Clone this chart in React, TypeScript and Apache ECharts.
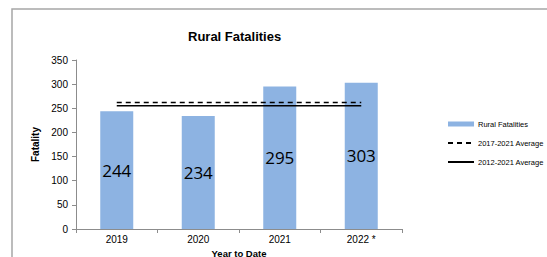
import React, { useEffect, useRef } from "react";
import * as echarts from "echarts";

const categories = ["2019", "2020", "2021", "2022 *"];
const ruralFatalities = [244, 234, 295, 303];
const avg2017_2021 = [262, 262, 262, 262];
const avg2012_2021 = [255, 255, 255, 255];
const yTicks = [0, 50, 100, 150, 200, 250, 300, 350];

export default function App() {
  const ref = useRef<HTMLDivElement>(null);
  useEffect(() => {
    document.body.style.margin = "0";
    const chart = echarts.init(ref.current!, null, { renderer: "svg" });
    const font = "'Liberation Sans', Arial, sans-serif";
    const labelFont = "'Open Sans', 'Liberation Sans', sans-serif";
    chart.setOption({
      animation: false,
      backgroundColor: "#ffffff",
      title: {
        text: "Rural Fatalities",
        left: 183,
        top: 25,
        textStyle: { fontFamily: font, fontWeight: "bold", fontSize: 13, color: "#000" },
      },
      graphic: [
        {
          type: "polyline",
          shape: { points: [[12, 260], [12, 9], [560, 9]] },
          style: { stroke: "#a6a6a6", lineWidth: 1.5, fill: "none" },
          silent: true,
        },
      ],
      legend: {
        orient: "vertical",
        left: 442,
        top: 115,
        itemWidth: 26,
        itemHeight: 5,
        itemGap: 11,
        textStyle: { fontFamily: font, fontSize: 7.5, color: "#000", padding: [0, 0, 0, -1] },
        data: [
          { name: "Rural Fatalities", icon: "rect" },
          { name: "2017-2021 Average", itemStyle: { opacity: 0 } },
          { name: "2012-2021 Average", itemStyle: { opacity: 0 } },
        ],
      },
      grid: { left: 76, top: 60, right: 145, bottom: 28, outerBoundsMode: "none", containLabel: false },
      xAxis: {
        type: "category",
        data: categories,
        name: "Year to Date",
        nameLocation: "middle",
        nameGap: 17,
        nameTextStyle: { fontFamily: font, fontWeight: "bold", fontSize: 9.5, color: "#000", lineHeight: 10 },
        axisLine: { lineStyle: { color: "#8c8c8c" } },
        axisTick: { show: true, length: 4, lineStyle: { color: "#8c8c8c" } },
        axisLabel: { fontFamily: font, fontSize: 10, color: "#000", margin: 5 },
      },
      yAxis: {
        type: "value",
        min: 0,
        max: 350,
        interval: 50,
        name: "Fatality",
        nameLocation: "middle",
        nameGap: 32,
        nameTextStyle: { fontFamily: font, fontWeight: "bold", fontSize: 10, color: "#000" },
        axisLine: { show: true, lineStyle: { color: "#8c8c8c" } },
        axisTick: { show: true, length: 4, lineStyle: { color: "#8c8c8c" } },
        splitLine: { show: false },
        axisLabel: {
          fontFamily: font,
          fontSize: 10,
          color: "#000",
          margin: 8,
          formatter: (v: number) => (yTicks.includes(v) ? String(v) : ""),
        },
      },
      series: [
        {
          name: "Rural Fatalities",
          type: "bar",
          data: ruralFatalities,
          barWidth: 33,
          itemStyle: { color: "#8db3e2" },
          label: {
            show: true,
            position: "inside",
            fontFamily: labelFont,
            fontSize: 17,
            color: "#000",
          },
        },
        {
          name: "2017-2021 Average",
          type: "line",
          data: avg2017_2021,
          symbol: "none",
          itemStyle: { color: "#000" },
          lineStyle: { color: "#000", width: 1.5, type: [5, 4] },
        },
        {
          name: "2012-2021 Average",
          type: "line",
          data: avg2012_2021,
          symbol: "none",
          itemStyle: { color: "#000" },
          lineStyle: { color: "#000", width: 1.5, type: "solid" },
        },
      ],
    });
    return () => chart.dispose();
  }, []);
  return <div ref={ref} style={{ width: 547, height: 257 }} />;
}
